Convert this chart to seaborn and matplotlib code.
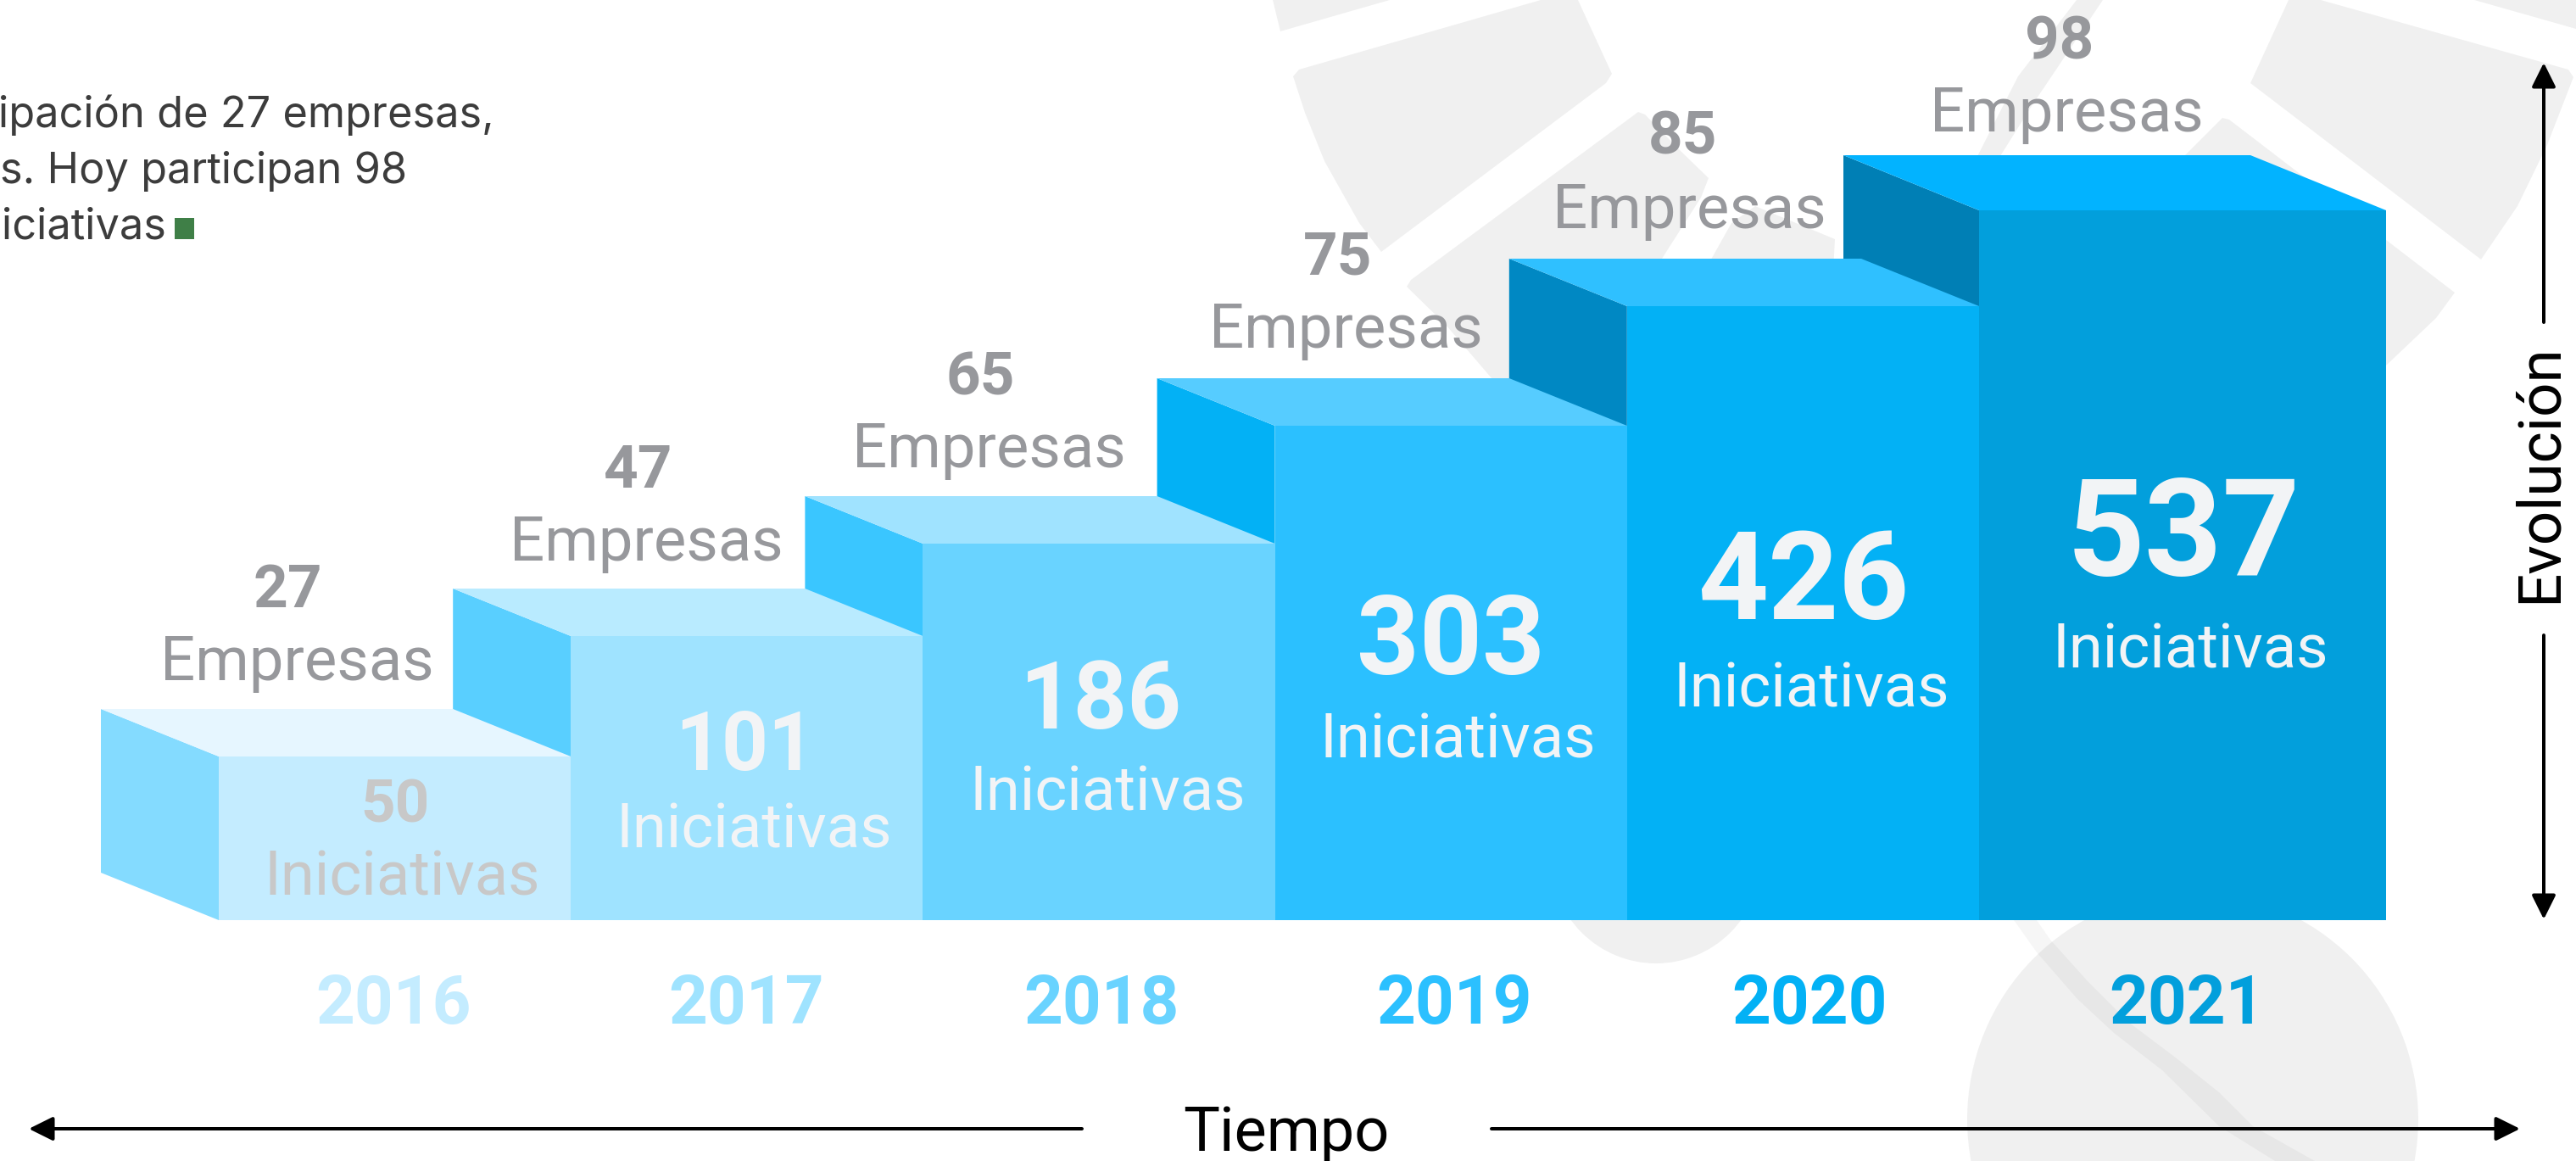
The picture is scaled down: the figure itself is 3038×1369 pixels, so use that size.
import matplotlib
matplotlib.use("Agg")
import matplotlib.pyplot as plt
from matplotlib.patches import Polygon, Ellipse
import pandas as pd
import seaborn as sns

# ~~~~~~~~~~~~~~~~~~~~~~~~~~~~~~~~~~~~~~~~~~~~~~~~~~~~~~~~~~~~~~~~~~~~~~~~~~~~~
# Data
years = ["2016", "2017", "2018", "2019", "2020", "2021"]
empresas = [27, 47, 65, 75, 85, 98]
iniciativas = [50, 101, 186, 303, 426, 537]
# the steps are drawn schematically, not to scale with iniciativas
step_heights = [193, 335, 444, 583, 724, 837]

front_colors = ["#c4ecff", "#9fe3ff", "#69d3ff", "#2bc0ff", "#03b1f5", "#029fdc"]
top_colors = ["#e6f6ff", "#b9ebff", "#a0e3ff", "#56ccff", "#2fc0ff", "#02b3ff"]
side_colors = ["#84dbff", "#59cfff", "#3ac6ff", "#03b1f5", "#0088c3", "#007fb5"]

# ~~~~~~~~~~~~~~~~~~~~~~~~~~~~~~~~~~~~~~~~~~~~~~~~~~~~~~~~~~~~~~~~~~~~~~~~~~~~~
# Layout in image pixels
W, H = 3038, 1369
baseline = 1085
first_left = 258
step_w = 415.2
last_w = 480
depth_x = [139, 139, 139, 139, 139, 160]
depth_y = [56, 56, 56, 56, 56, 65]

emp_num_x = [339, 752, 1156, 1578, 1984, 2429]
emp_num_y = [716, 575, 466, 324, 182, 69]
emp_txt_x = [350, 762, 1166, 1587, 1992, 2437]
emp_txt_y = [802, 661, 551, 410, 269, 155]

ini_num_x = [466, 879, 1298, 1711, 2127, 2575]
ini_num_y = [970, 908, 859, 795, 730, 678]
ini_num_px = [71, 96, 111, 129, 145, 160]
ini_txt_x = [474, 889, 1306, 1719, 2136, 2583]
ini_txt_y = [1055, 999, 955, 894, 834, 787]
ini_colors = ["#c8c8c8", "#f2f4f6", "#f2f4f6", "#f2f4f6", "#f2f4f6", "#f2f4f6"]

year_x = [464, 880, 1299, 1715, 2134, 2579]

note_lines = ["ipación de 27 empresas,", "s. Hoy participan 98", "iciativas"]
note_y = [150, 216, 281]

# grey emblem behind the steps, traced by hand
emblem = [
    [(1501, 0), (1639, 0), (1510, 37)],
    [(1817, 0), (1861, 0), (1901, 87), (1894, 98), (1629, 297), (1603, 263), (1562, 190),
     (1539, 133), (1525, 90), (1532, 82)],
    [(1932, 132), (1940, 135), (1981, 177), (2015, 210), (2006, 233), (1960, 305), (1800, 470),
     (1760, 447), (1705, 383), (1659, 338), (1664, 330)],
    [(2070, 243), (2164, 282), (2162, 320), (2010, 320), (2042, 263)],
    [(2449, 0), (2480, 0), (2396, 125), (2349, 200), (2324, 200), (2380, 90)],
    [(2699, 0), (2737, 0), (3029, 82), (3035, 91), (3004, 171), (2969, 243), (2926, 306), (2654, 98)],
    [(2918, 0), (3038, 34), (3038, 0)],
    [(2621, 139), (2629, 141), (2895, 345), (2873, 375), (2815, 430), (2700, 500), (2560, 200)],
]
# thin curved band crossing the big circle, fainter so the overlap stays subtle
band = [(2375, 1085), (2402, 1123), (2450, 1178), (2493, 1218), (2550, 1262), (2617, 1328),
        (2683, 1369), (2730, 1369), (2657, 1328), (2617, 1288), (2567, 1248), (2510, 1205),
        (2463, 1158), (2418, 1108), (2402, 1085)]

sns.set_theme(style="white")
plt.rcParams["font.family"] = ["Roboto", "DejaVu Sans"]


def pt(px):
    return px * 0.72


fig = plt.figure(figsize=(W / 100, H / 100), dpi=100, facecolor="white")
bg = fig.add_axes([0, 0, 1, 1], zorder=0)
bg.set_xlim(0, W)
bg.set_ylim(H, 0)
bg.axis("off")

for shape in emblem:
    bg.add_patch(Polygon(shape, closed=True, fc="black", alpha=0.06, lw=0))
bg.add_patch(Polygon(band, closed=True, fc="black", alpha=0.035, lw=0))
bg.add_patch(Ellipse((1953, 1012), 248, 248, fc="black", alpha=0.06, lw=0))
bg.add_patch(Ellipse((2586, 1320), 532, 536, fc="black", alpha=0.06, lw=0))

# ~~~~~~~~~~~~~~~~~~~~~~~~~~~~~~~~~~~~~~~~~~~~~~~~~~~~~~~~~~~~~~~~~~~~~~~~~~~~~
# Steps: front faces from seaborn, top and side faces built from those bars
ax = fig.add_axes([0, 0, 1, 1], zorder=1)
ax.patch.set_alpha(0)
df = pd.DataFrame({"year": years, "height": step_heights})
sns.barplot(data=df, x="year", y="height", hue="year", palette=front_colors, width=1,
            saturation=1, legend=False, linewidth=0, ax=ax)
x_left = -0.5 - first_left / step_w
ax.set_xlim(x_left, x_left + W / step_w)
ax.set_ylim(baseline - H, baseline)
ax.axis("off")

bars = [c[0] for c in ax.containers]
bars[-1].set_width(last_w / step_w)

for i in reversed(range(len(bars))):
    b = bars[i]
    x0, x1, h = b.get_x(), b.get_x() + b.get_width(), b.get_height()
    dx, dy = depth_x[i] / step_w, depth_y[i]
    z = 10 + 2 * (len(bars) - i)
    ax.add_patch(Polygon([(x0, 0), (x0, h), (x0 - dx, h + dy), (x0 - dx, dy)], closed=True,
                         fc=side_colors[i], lw=0, zorder=z))
    ax.add_patch(Polygon([(x0, h), (x1, h), (x1 - dx, h + dy), (x0 - dx, h + dy)], closed=True,
                         fc=top_colors[i], lw=0, zorder=z + 1))
    b.set_zorder(30)

# ~~~~~~~~~~~~~~~~~~~~~~~~~~~~~~~~~~~~~~~~~~~~~~~~~~~~~~~~~~~~~~~~~~~~~~~~~~~~~
# Labels
tr = bg.transData
for i in range(len(years)):
    ax.text(emp_num_x[i], emp_num_y[i], str(empresas[i]), transform=tr, ha="center", va="baseline",
            fontsize=pt(71), fontweight="bold", color="#97989c", zorder=40)
    ax.text(emp_txt_x[i], emp_txt_y[i], "Empresas", transform=tr, ha="center", va="baseline",
            fontsize=pt(72.5), color="#97989c", zorder=40)
    ax.text(ini_num_x[i], ini_num_y[i], str(iniciativas[i]), transform=tr, ha="center", va="baseline",
            fontsize=pt(ini_num_px[i]), fontweight="bold", color=ini_colors[i], zorder=40)
    ax.text(ini_txt_x[i], ini_txt_y[i], "Iniciativas", transform=tr, ha="center", va="baseline",
            fontsize=pt(72.5), color=ini_colors[i], zorder=40)
    ax.text(year_x[i], 1207, years[i], transform=tr, ha="center", va="baseline",
            fontsize=pt(80), fontweight="bold", color=front_colors[i], zorder=40)

for line, y, right in zip(note_lines, note_y, [583, 480, 196]):
    ax.text(right, y, line, transform=tr, ha="right", va="baseline", fontsize=pt(50.5),
            family=["Inter", "DejaVu Sans"], color="#3c3c3c", zorder=40)
bg.add_patch(Polygon([(206, 257), (229, 257), (229, 282), (206, 282)], closed=True, fc="#3f7f47", lw=0))

# Time and evolution arrows
arrow = dict(arrowstyle="-|>,head_length=1.73,head_width=0.86", mutation_scale=10, color="black",
             lw=pt(4), shrinkA=0, shrinkB=0)
bg.annotate("", xy=(34, 1331), xytext=(1276, 1331), arrowprops=arrow)
bg.annotate("", xy=(2972, 1331), xytext=(1759, 1331), arrowprops=arrow)
bg.annotate("", xy=(3000, 74), xytext=(3000, 380), arrowprops=arrow)
bg.annotate("", xy=(3000, 1084), xytext=(3000, 749), arrowprops=arrow)

ax.text(1517, 1357, "Tiempo", transform=tr, ha="center", va="baseline", fontsize=pt(72),
        color="black", zorder=40)
ax.text(3015, 558, "Evolución", transform=tr, ha="center", va="baseline", rotation=90,
        rotation_mode="anchor", fontsize=pt(71), color="black", zorder=40)

fig.savefig("out.png", dpi=100)
